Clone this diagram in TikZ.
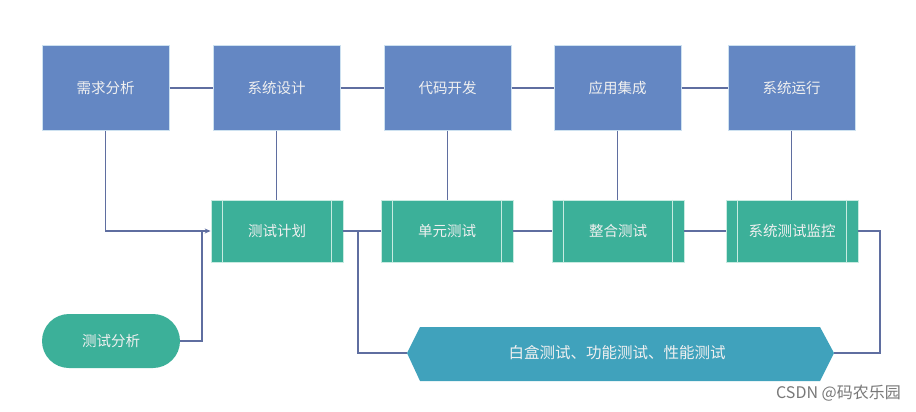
\documentclass[tikz,border=0pt]{standalone}
\usepackage{fontspec}
\newfontfamily\cjk{Noto Sans CJK SC}
\usetikzlibrary{arrows.meta,calc}
\definecolor{topblue}{RGB}{100,135,195}
\definecolor{tgreen}{RGB}{60,176,153}
\definecolor{hexblue}{RGB}{64,162,188}
\definecolor{lineblue}{RGB}{95,110,160}
\definecolor{edgelight}{RGB}{205,225,240}
\definecolor{greenlight}{RGB}{200,235,225}
\definecolor{wm}{RGB}{120,120,120}
\begin{document}
\begin{tikzpicture}[x=1pt,y=-1pt,
  lbl/.style={text=white!94!black,font=\cjk\fontsize{14.5}{16}\selectfont},
  topbox/.style={lbl,draw=edgelight,line width=1pt,fill=topblue,minimum width=127pt,minimum height=84pt,inner sep=0pt},
  procbox/.style={lbl,draw=greenlight,line width=0.8pt,fill=tgreen,minimum width=132pt,minimum height=62pt,inner sep=0pt},
  stadium/.style={lbl,fill=tgreen,minimum width=138pt,minimum height=54pt,rounded corners=27pt,inner sep=0pt},
  conn/.style={draw=lineblue,line width=1.5pt},
  innerline/.style={draw=greenlight,line width=0.8pt}]
\useasboundingbox (0,0) rectangle (916,412);
\fill[white] (0,0) rectangle (916,412);
% top row
\node[topbox] (n1) at (105.5,88) {需求分析};
\node[topbox] (n2) at (276.5,88) {系统设计};
\node[topbox] (n3) at (447.5,88) {代码开发};
\node[topbox] (n4) at (617.5,88) {应用集成};
\node[topbox] (n5) at (791.5,88) {系统运行};
% process boxes
\node[procbox] (g1) at (277,231) {测试计划};
\node[procbox] (g2) at (447,231) {单元测试};
\node[procbox] (g3) at (618,231) {整合测试};
\node[procbox] (g4) at (792,231) {系统测试监控};
\foreach \g in {g1,g2,g3,g4}{
  \draw[innerline] ($(\g.north west)+(12,0)$) -- ($(\g.south west)+(12,0)$);
  \draw[innerline] ($(\g.north east)+(-12,0)$) -- ($(\g.south east)+(-12,0)$);
}
% stadium
\node[stadium] (ta) at (111,341) {测试分析};
% hexagon
\fill[hexblue] (407,353) -- (420,327) -- (820,327) -- (834,353) -- (820,381) -- (420,381) -- cycle;
\coordinate (hexL) at (407,353);
\coordinate (hexR) at (834,353);
\node[lbl,font=\cjk\fontsize{15.5}{17}\selectfont] (ht) at (617,353) {白盒测试、功能测试、性能测试};
% watermark
\node[text=wm,font=\cjk\fontsize{16}{18}\selectfont,anchor=east,inner sep=0pt] (wmk) at (901,393) {CSDN @码农乐园};
% connectors
\draw[conn] (n1.east) -- (n2.west);
\draw[conn] (n2.east) -- (n3.west);
\draw[conn] (n3.east) -- (n4.west);
\draw[conn] (n4.east) -- (n5.west);
\draw[conn] (n2.south) -- (n2.south |- g1.north);
\draw[conn] (n3.south) -- (n3.south |- g2.north);
\draw[conn] (n4.south) -- (n4.south |- g3.north);
\draw[conn] (n5.south) -- (n5.south |- g4.north);
\draw[conn,-{Stealth[length=6pt,width=5pt]}] (n1.south) |- (g1.west);
\coordinate (j) at (202,231);
\draw[conn] (ta.east) -| (j);
\draw[conn] (g1.east) -- (g2.west);
\draw[conn] (g2.east) -- (g3.west);
\draw[conn] (g3.east) -- (g4.west);
\coordinate (b) at (358,231);
\draw[conn] (b) |- (hexL);
\coordinate (r) at (880,353);
\draw[conn] (g4.east) -| (r) -- (hexR);
\end{tikzpicture}
\end{document}
